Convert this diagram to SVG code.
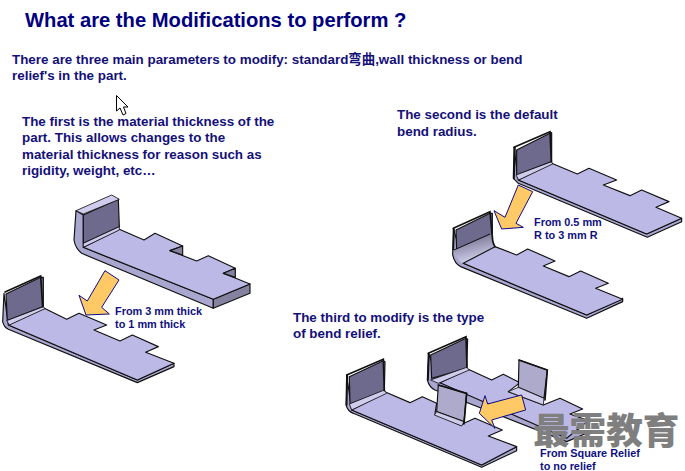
<svg xmlns="http://www.w3.org/2000/svg" width="685" height="471" viewBox="0 0 685 471">
<style>
text{font-family:"Liberation Sans","Noto Sans CJK SC",sans-serif;font-weight:bold}
.t{font-size:20.2px;fill:#00007f}
.b{font-size:13.4px;fill:#14107a}
.s{font-size:10.9px;fill:#101080}
.f{fill:#bdb9e6;stroke:#111;stroke-width:3.5;stroke-linejoin:round}
.e{fill:#a9a6d0;stroke:#111;stroke-width:3.5;stroke-linejoin:round}
.d{fill:#85829f;stroke:#111;stroke-width:3.5;stroke-linejoin:round}
.w{fill:#6d6a8e;stroke:#111;stroke-width:3.5;stroke-linejoin:round}
.l{fill:#aeaacb;stroke:#111;stroke-width:3.5;stroke-linejoin:round}
.k{fill:none;stroke:#111;stroke-width:5;stroke-linecap:round}
.m{fill:#cfcced;stroke:#111;stroke-width:2.500;stroke-linejoin:round}
.a{fill:#ffc966;stroke:#0c0a88;stroke-width:3;stroke-linejoin:miter}
</style>
<defs><linearGradient id="bend" x1="0" y1="0" x2="0.35" y2="1"><stop offset="0" stop-color="#5f5c7c"/><stop offset="1" stop-color="#d5d3ee"/></linearGradient></defs>
<rect width="685" height="471" fill="#fff"/>
<g id="heading"><text class="t" x="25" y="27">What are the Modifications to perform ?</text></g>
<g id="intro"><text class="b" x="12" y="64">There are three main parameters to modify: standard弯曲,wall thickness or bend</text><text class="b" x="12" y="80">relief's in the part.</text></g>
<g id="cursor"><polygon points="116.500,95.500 116.500,111 120,108 123,115 126,113.500 123.500,107 128,107" fill="#fff" stroke="#000"/></g>
<g id="note-first"><text class="b" x="22" y="126">The first is the material thickness of the</text><text class="b" x="22" y="142">part.  This allows changes to the</text><text class="b" x="22" y="159">material thickness for reason such as</text><text class="b" x="22" y="175">rigidity, weight, etc…</text></g>
<g id="note-second"><text class="b" x="397" y="119">The second is the default</text><text class="b" x="397" y="136">bend radius.</text></g>
<g id="note-third"><text class="b" x="293" y="322">The third to modify is the type</text><text class="b" x="293" y="338">of bend relief.</text></g>

<g id="part-thick" transform="translate(0,190) scale(.3333)">
<path class="e" d="M228,62 L222,150 Q226,175 245,190 L640,355 L640,328 L250,172 L250,75 Z"/>
<polygon class="d" points="640,328 750,282 750,310 640,355"/>
<polygon class="w" points="250,75 355,28 358,110 250,160"/>
<polygon class="m" points="228,62 335,15 358,28 250,72"/>
<polygon class="f" points="358,118 432,150 465,130 548,168 510,182 590,213 625,197 706,235 670,250 750,282 640,328 250,172"/>
<polygon class="m" points="250,160 358,110 358,120 250,172"/>
<polygon class="d" points="548,168 548,195 510,182"/><polygon class="d" points="706,235 706,262 670,250"/>
</g>
<g id="part-thin" transform="translate(0,190) scale(.3333)">
<path class="e" d="M12,310 L8,395 Q12,412 25,418 L412,578 L522,530 L522,520 L412,570 L25,405 Z"/>
<polygon class="w" points="18,312 122,262 130,262 130,350 22,392"/>
<polygon class="f" points="133,355 200,388 237,370 320,405 282,420 360,453 397,435 475,470 437,487 522,520 412,570 25,405"/>
<polygon class="m" points="20,392 130,350 135,356 28,405"/>
<path class="k" d="M15,306 L122,258 L128,350"/>
</g>
<g id="part-radius-small" transform="translate(440,130) scale(.3333)">
<polygon class="e" points="222,52 220,145 235,160 622,322 725,275 725,265 620,312 235,150"/>
<polygon class="w" points="230,60 330,10 335,8 335,95 230,135"/>
<polygon class="f" points="335,100 412,132 447,115 530,150 490,165 570,197 605,180 687,215 648,232 725,265 620,312 235,150"/>
<polygon class="m" points="228,135 335,95 338,102 236,150"/>
<path class="k" d="M222,52 L330,5 L334,95 M225,52 L222,145"/>
</g>
<g id="part-radius-large" transform="translate(440,130) scale(.3333)">
<path class="e" d="M40,295 L38,375 Q44,402 62,410 L440,565 L548,515 L548,505 L440,555 L70,400 Z"/>
<polygon class="w" points="48,300 150,250 157,250 157,335 50,360"/>
<path d="M42,360 L157,312 Q158,340 165,350 L70,400 Q50,392 42,360 Z" fill="url(#bend)"/>
<path d="M42,360 L150,312" stroke="#111" stroke-width="3" fill="none"/>
<polygon class="f" points="165,350 230,375 263,357 345,393 310,408 387,440 422,423 505,460 467,475 548,508 440,555 70,400"/>
<path class="k" d="M40,295 L150,245 L157,320 Q158,340 165,350 M42,297 L40,358"/>
</g>
<g id="part-relief-back" transform="translate(340,330) scale(.3333)">
<path class="e" d="M265,70 L262,150 Q268,172 285,180 L680,335 L740,310 L690,290 L300,158 Z"/>
<polygon class="w" points="272,75 378,25 383,28 380,115 275,145"/>
<polygon class="f" points="385,118 455,150 490,133 540,158 505,185 610,225 660,205 728,237 690,252 745,272 680,325 300,158"/>
<polygon class="m" points="272,150 380,112 388,120 295,160"/>
<polygon class="l" points="537,90 622,120 612,205 535,172"/>
<polygon class="m" points="505,185 535,172 612,205 610,225"/>
<path class="k" d="M265,70 L378,20 L381,112 M267,72 L264,150 M537,90 L622,120 L615,210"/>
</g>
<g id="part-relief-front" transform="translate(340,330) scale(.3333)">
<path class="e" d="M20,135 L18,225 Q24,245 40,250 L425,412 L530,362 L530,350 L425,405 L35,240 Z"/>
<polygon class="w" points="28,140 130,92 135,95 133,185 30,222"/>
<polygon class="f" points="138,187 210,218 247,200 290,220 285,250 360,285 405,265 487,300 445,318 530,350 425,405 35,240"/>
<polygon class="m" points="28,222 133,180 140,190 35,240"/>
<polygon class="l" points="295,165 380,190 372,275 290,245"/>
<polygon class="m" points="283,255 290,245 372,275 365,288"/>
<path class="k" d="M20,135 L130,88 L133,182 M22,137 L20,225 M295,165 L380,190 L372,282"/>
</g>

<g id="connectors">
<polygon class="a" transform="translate(0,190) scale(.3333)" points="315,242 357,270 305,352 328,372 258,375 237,316 262,333"/>
<polygon class="a" transform="translate(440,130) scale(.3333)" points="235,165 278,185 228,280 250,292 185,297 162,242 195,262"/>
<polygon class="a" transform="translate(340,330) scale(.3333)" points="545,195 557,240 455,270 465,295 418,250 435,197 443,222"/>
</g>
<g id="label-thick"><text class="s" x="115" y="315">From 3 mm thick</text><text class="s" x="115" y="328">to 1 mm thick</text></g>
<g id="label-radius"><text class="s" x="534" y="226">From 0.5 mm</text><text class="s" x="534" y="239">R to 3 mm R</text></g>
<g id="label-relief"><text class="s" x="540" y="457">From Square Relief</text><text class="s" x="540" y="470">to no relief</text></g>
<g id="watermark"><text x="533" y="444" font-size="36.600" style="fill:#7f7f7f;font-family:'Noto Sans CJK SC',sans-serif;font-weight:900">最需教育</text></g>
</svg>
